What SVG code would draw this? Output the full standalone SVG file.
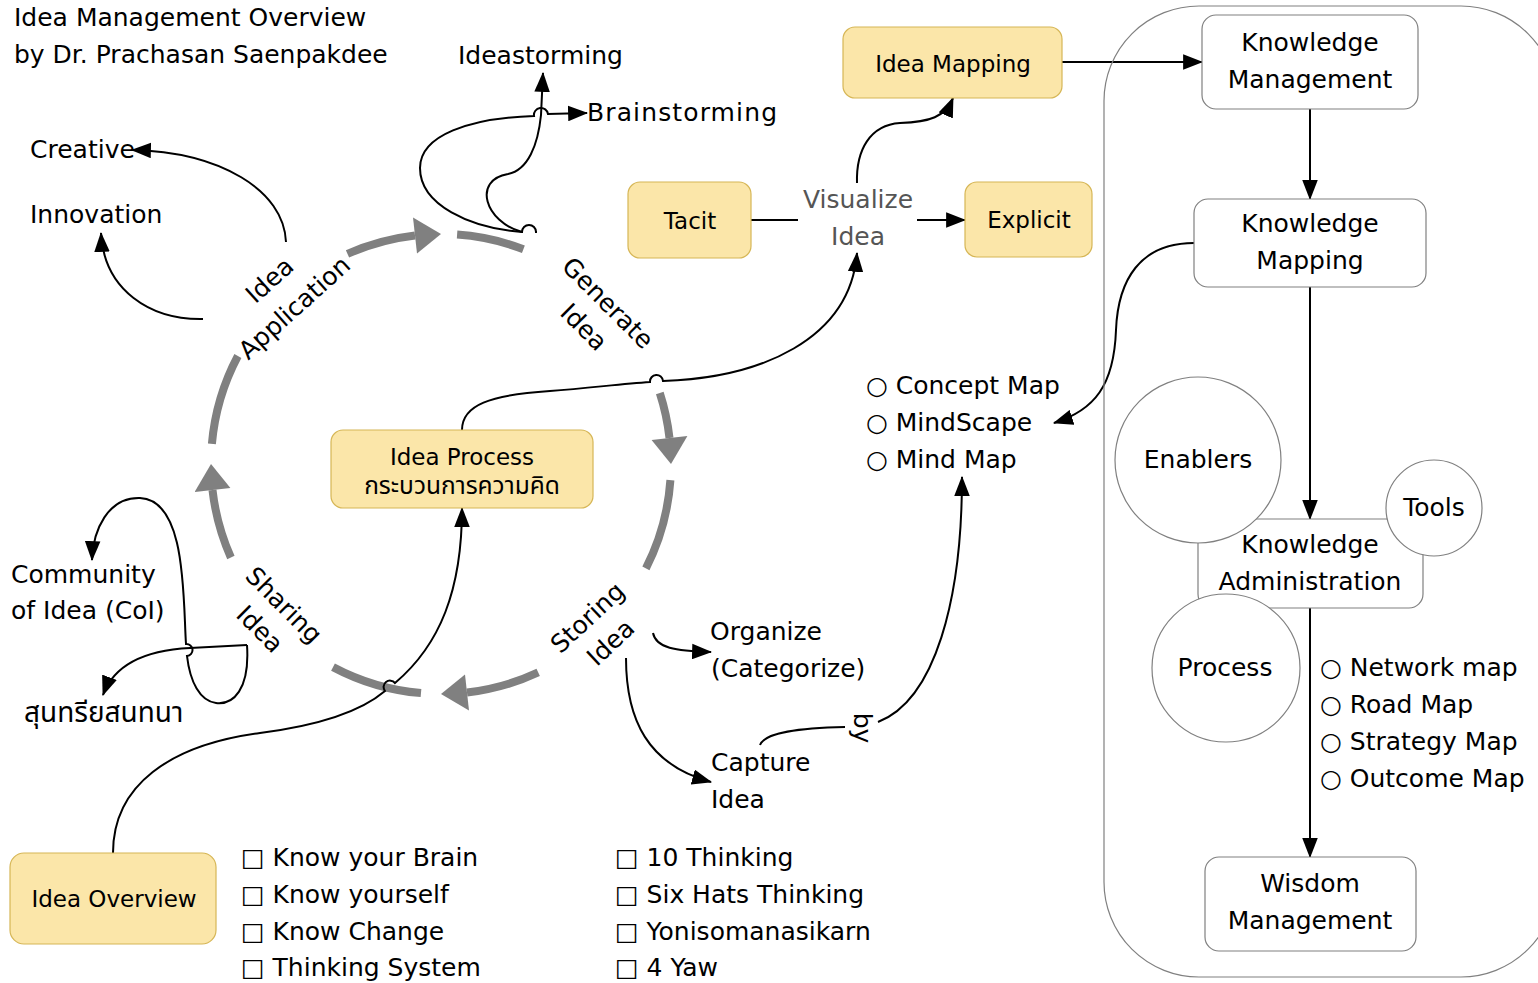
<svg xmlns="http://www.w3.org/2000/svg" width="1538" height="983" viewBox="0 0 1538 983">
<defs>
<style>
.hw{font-family:"DejaVu Sans","Liberation Sans",sans-serif;font-size:25px;fill:#000}
.bx{font-family:"DejaVu Sans","Noto Sans","Noto Sans Thai",sans-serif;font-size:23px;fill:#000;text-anchor:middle}
.th{font-family:"Noto Sans Thai","Noto Sans","DejaVu Sans",sans-serif}
.thb{font-size:24.5px}
.thl{font-size:28px}
.mid{text-anchor:middle}
.ybox{fill:#fbe6a9;stroke:#d6b656;stroke-width:1.2}
.wbox{fill:#fff;stroke:#808080;stroke-width:1.2}
.circ{fill:#fff;stroke:#808080;stroke-width:1.2}
.gray{fill:none;stroke:#808080;stroke-width:8}
.grayh{fill:#808080;stroke:none}
.con{fill:none;stroke:#000;stroke-width:2}
.arr{marker-end:url(#ah)}
</style>
<marker id="ah" markerUnits="userSpaceOnUse" markerWidth="20" markerHeight="16" viewBox="0 0 18 14" refX="17" refY="7" orient="auto">
<path d="M0,0 L18,7 L0,14 Z" fill="#000"/>
</marker>
</defs>
<rect width="1538" height="983" fill="#fff"/>

<g id="title">
<text class="hw" x="14" y="26">Idea Management Overview</text>
<text class="hw" x="14" y="63">by Dr. Prachasan Saenpakdee</text>
</g>

<g id="cycle">
<path class="gray" d="M347.5,253.9 A230,230 0 0 1 415.0,235.5"/>
<polygon class="grayh" points="413,217.6 417,253.4 441,234"/>
<path class="gray" d="M457.1,234.6 A230,230 0 0 1 523.4,249.3"/>
<path class="gray" d="M659.8,392.9 A230,230 0 0 1 669.5,438.0"/>
<polygon class="grayh" points="687.4,436 651.6,440 671,464"/>
<path class="gray" d="M670.4,480.1 A230,230 0 0 1 645.9,568.4"/>
<path class="gray" d="M538.2,672.4 A230,230 0 0 1 467.0,692.5"/>
<polygon class="grayh" points="469,710.4 465,674.6 441,694"/>
<path class="gray" d="M421.0,693.1 A230,230 0 0 1 333.0,667.1"/>
<path class="gray" d="M230.9,557.5 A230,230 0 0 1 212.5,490.0"/>
<polygon class="grayh" points="194.6,492 230.4,488 211,464"/>
<path class="gray" d="M211.9,443.9 A230,230 0 0 1 237.9,356.0"/>
</g>

<g id="label-application" transform="translate(282,294) rotate(-42)">
<text class="hw mid" x="0" y="-10">Idea</text>
<text class="hw mid" x="0" y="27">Application</text>
</g>
<g id="label-generate" transform="translate(595.5,315.5) rotate(45)">
<text class="hw mid" x="0" y="-9">Generate</text>
<text class="hw mid" x="0" y="25">Idea</text>
</g>
<g id="label-storing" transform="translate(599.5,630.5) rotate(-43)">
<text class="hw mid" x="0" y="-9">Storing</text>
<text class="hw mid" x="0" y="25">Idea</text>
</g>
<g id="label-sharing" transform="translate(271.5,617.5) rotate(45)">
<text class="hw mid" x="0" y="-9">Sharing</text>
<text class="hw mid" x="0" y="25">Idea</text>
</g>

<g id="connectors">
<path class="con arr" d="M537,232 L536,232 A7,7 0 0 0 522,232 C470,228 420,205 420,168 C420,135 470,118 534,116 A7,7 0 0 1 548,114 L587,113"/>
<path class="con arr" d="M522,232 C485,222 472,180 508,174 C528,170 538,145 541,115 L543,73"/>
<path class="con arr" d="M286,242 C284,190 220,152 132,150"/>
<path class="con arr" d="M203,319 C150,320 104,290 101,233"/>
<path class="con arr" d="M247,645 C250,690 233,705 216,703 C200,701 190,682 187,656 A6,6 0 0 0 186,644 C183,600 187,500 140,498 C108,497 93,530 92,560"/>
<path class="con arr" d="M247,645 L190,648 C150,650 115,662 103,695"/>
<path class="con arr" d="M113,853 C113,785 170,745 260,733 C330,724 365,708 385,691 A6,6 0 0 1 395,683 C440,645 462,590 462,508"/>
<path class="con arr" d="M462,430 C462,405 490,395 550,391 C590,388 620,384 650,382 A6,6 0 0 1 663,381 C760,378 850,340 857,253"/>
<path class="con arr" d="M857,183 C856,150 870,125 900,123 C930,122 945,117 953,98"/>
<path class="con" d="M751,220 L798,220"/>
<path class="con arr" d="M917,220 L965,220"/>
<path class="con arr" d="M1062,62 L1202,62"/>
<path class="con arr" d="M653,633 C656,648 675,651 711,652"/>
<path class="con arr" d="M626,658 C626,720 648,765 711,782"/>
<path class="con" d="M760,745 C765,732 800,728 845,727"/>
<path class="con arr" d="M878,722 C935,700 962,600 962,477"/>
<path class="con arr" d="M1194,243 C1140,243 1118,280 1116,330 C1114,385 1095,410 1054,423"/>
<path class="con arr" d="M1310,109 L1310,199"/>
<path class="con arr" d="M1310,287 L1310,519"/>
<path class="con arr" d="M1310,608 L1310,857"/>
</g>

<g id="idea-mapping">
<rect class="ybox" x="843" y="27" width="219" height="71" rx="12"/>
<text class="bx" x="953" y="72">Idea Mapping</text>
</g>
<g id="tacit">
<rect class="ybox" x="628" y="182" width="123" height="76" rx="12"/>
<text class="bx" x="690" y="229">Tacit</text>
</g>
<g id="explicit">
<rect class="ybox" x="965" y="182" width="127" height="75" rx="12"/>
<text class="bx" x="1029" y="228">Explicit</text>
</g>
<g id="idea-process">
<rect class="ybox" x="331" y="430" width="262" height="78" rx="12"/>
<text class="bx" x="462" y="465">Idea Process</text>
<text class="bx th thb" x="462" y="494">กระบวนการความคิด</text>
</g>
<g id="idea-overview">
<rect class="ybox" x="10" y="853" width="206" height="91" rx="14"/>
<text class="bx" x="114" y="907">Idea Overview</text>
</g>

<g id="visualize-idea">
<text class="hw mid" x="858" y="208" style="fill:#555">Visualize</text>
<text class="hw mid" x="858" y="245" style="fill:#555">Idea</text>
</g>
<g id="ideastorming"><text class="hw" x="458" y="64">Ideastorming</text></g>
<g id="brainstorming"><text class="hw" x="587" y="121" textLength="190">Brainstorming</text></g>
<g id="creative"><text class="hw" x="30" y="158">Creative</text></g>
<g id="innovation"><text class="hw" x="30" y="223">Innovation</text></g>
<g id="community">
<text class="hw" x="11" y="583">Community</text>
<text class="hw" x="11" y="619">of Idea (CoI)</text>
</g>
<g id="sunthari"><text class="hw th thl" x="24" y="722">สุนทรียสนทนา</text></g>
<g id="organize">
<text class="hw" x="710" y="640">Organize</text>
<text class="hw" x="711" y="677">(Categorize)</text>
</g>
<g id="capture">
<text class="hw" x="711" y="771">Capture</text>
<text class="hw" x="711" y="808">Idea</text>
</g>
<g id="by-label" transform="translate(862,728) rotate(90)"><text class="hw mid" x="0" y="8">by</text></g>
<g id="map-list">
<text class="hw" x="866" y="394">○ Concept Map</text>
<text class="hw" x="866" y="431">○ MindScape</text>
<text class="hw" x="866" y="468">○ Mind Map</text>
</g>
<g id="list-left">
<text class="hw" x="241" y="866">□ Know your Brain</text>
<text class="hw" x="241" y="903">□ Know yourself</text>
<text class="hw" x="241" y="940">□ Know Change</text>
<text class="hw" x="241" y="976">□ Thinking System</text>
</g>
<g id="list-right">
<text class="hw" x="615" y="866">□ 10 Thinking</text>
<text class="hw" x="615" y="903">□ Six Hats Thinking</text>
<text class="hw" x="615" y="940">□ Yonisomanasikarn</text>
<text class="hw" x="615" y="976">□ 4 Yaw</text>
</g>

<g id="km-panel">
<rect x="1104" y="6" width="452" height="971" rx="95" fill="none" stroke="#808080" stroke-width="1.2"/>
</g>
<g id="knowledge-management">
<rect class="wbox" x="1202" y="15" width="216" height="94" rx="14"/>
<text class="hw mid" x="1310" y="51">Knowledge</text>
<text class="hw mid" x="1310" y="88">Management</text>
</g>
<g id="knowledge-mapping">
<rect class="wbox" x="1194" y="199" width="232" height="88" rx="14"/>
<text class="hw mid" x="1310" y="232">Knowledge</text>
<text class="hw mid" x="1310" y="269">Mapping</text>
</g>
<g id="knowledge-administration">
<rect class="wbox" x="1198" y="519" width="225" height="89" rx="14"/>
<text class="hw mid" x="1310" y="553">Knowledge</text>
<text class="hw mid" x="1310" y="590">Administration</text>
</g>
<g id="enablers">
<circle class="circ" cx="1198" cy="460" r="83"/>
<text class="hw mid" x="1198" y="468">Enablers</text>
</g>
<g id="tools">
<circle class="circ" cx="1434" cy="508" r="48"/>
<text class="hw mid" x="1434" y="516">Tools</text>
</g>
<g id="process">
<circle class="circ" cx="1226" cy="668" r="74"/>
<text class="hw mid" x="1225" y="676">Process</text>
</g>
<g id="wisdom-management">
<rect class="wbox" x="1205" y="857" width="211" height="94" rx="14"/>
<text class="hw mid" x="1310" y="892">Wisdom</text>
<text class="hw mid" x="1310" y="929">Management</text>
</g>
<g id="km-list">
<text class="hw" x="1320" y="676">○ Network map</text>
<text class="hw" x="1320" y="713">○ Road Map</text>
<text class="hw" x="1320" y="750">○ Strategy Map</text>
<text class="hw" x="1320" y="787">○ Outcome Map</text>
</g>
</svg>
